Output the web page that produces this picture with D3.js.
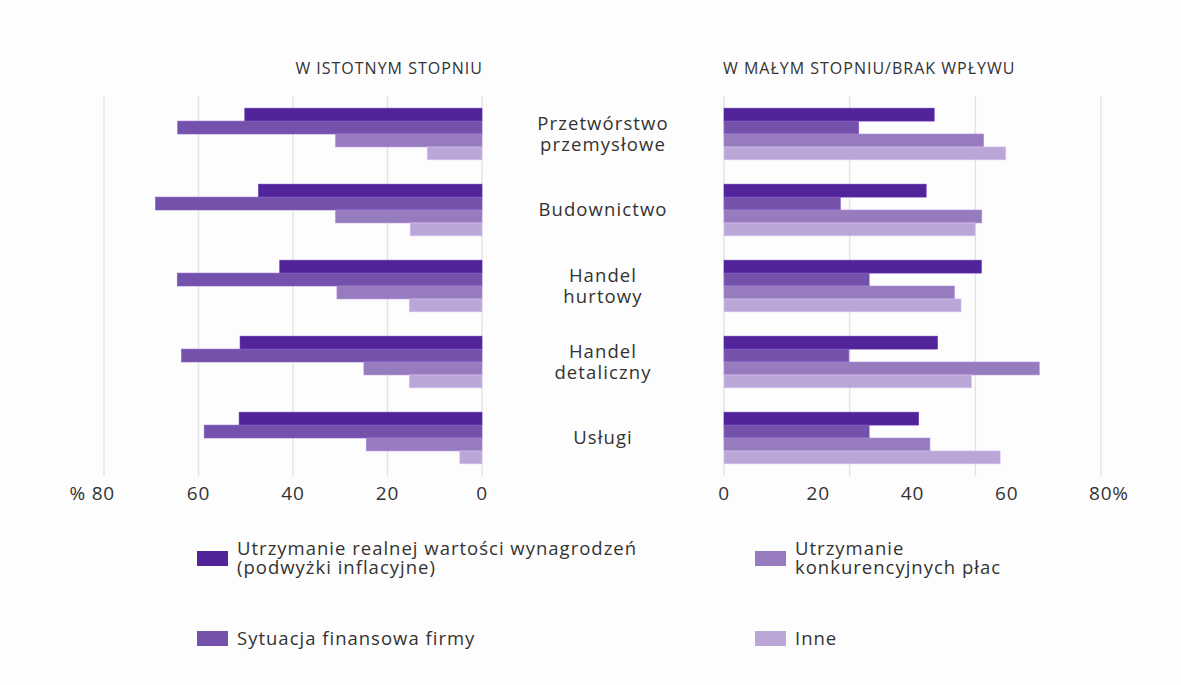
<!DOCTYPE html>
<html lang="pl">
<head>
  <meta charset="utf-8">
  <title>Czynniki wpływające na wynagrodzenia</title>
  <script src="https://d3js.org/d3.v7.min.js"></script>
  <style>
    body { margin: 0; background: #fdfdfd; }
    text { font-family: "Open Sans", "Noto Sans", sans-serif; fill: #333; }
    .grid line { stroke: #e4e4e4; stroke-width: 1.5; }
    .title { font-size: 16px; letter-spacing: 1px; }
    .tick-label { font-size: 19px; letter-spacing: 0.8px; }
    .cat { font-size: 18.5px; letter-spacing: 1.1px; }
    .legend text { font-size: 18.5px; letter-spacing: 1px; }
  </style>
</head>
<body>
<script>
  var categories = [["Przetwórstwo", "przemysłowe"], ["Budownictwo"], ["Handel", "hurtowy"], ["Handel", "detaliczny"], ["Usługi"]];
  var series = ["Utrzymanie realnej wartości wynagrodzeń (podwyżki inflacyjne)", "Sytuacja finansowa firmy", "Utrzymanie konkurencyjnych płac", "Inne"];
  var colors = ["#52249a", "#7452ac", "#967bbf", "#bba7d7"];

  // "w istotnym stopniu" (left), per series, per category
  var leftValues = [
    [50.2, 47.3, 42.8, 51.2, 51.4],
    [64.4, 69.1, 64.5, 63.6, 58.8],
    [31.0, 31.0, 30.7, 25.0, 24.5],
    [11.6, 15.2, 15.4, 15.4, 4.7]
  ];
  // "w małym stopniu / brak wpływu" (right)
  var rightValues = [
    [44.6, 42.9, 54.6, 45.3, 41.3],
    [28.6, 24.7, 30.8, 26.5, 30.8],
    [55.1, 54.7, 48.9, 66.9, 43.7],
    [59.8, 53.3, 50.3, 52.5, 58.6]
  ];

  var tickValues = [0, 20, 40, 60, 80];
  var leftGrid = [0, 20, 40, 60, 80];
  var rightGrid = [0, 80 / 3, 160 / 3, 80];

  var width = 1181, height = 685;
  var svg = d3.select("body").append("svg")
    .attr("width", width)
    .attr("height", height);

  var xLeft = d3.scaleLinear().domain([0, 80]).range([482, 104]);
  var xRight = d3.scaleLinear().domain([0, 80]).range([724, 1101]);

  var y = d3.scaleBand()
    .domain(d3.range(categories.length))
    .range([96, 476])
    .paddingInner(0.32)
    .paddingOuter(0.16);

  var ySub = d3.scaleBand()
    .domain(d3.range(series.length))
    .range([0, y.bandwidth()]);

  // grid lines
  svg.append("g").attr("class", "grid")
    .selectAll("line").data(leftGrid).enter().append("line")
    .attr("x1", function(d) { return xLeft(d); })
    .attr("x2", function(d) { return xLeft(d); })
    .attr("y1", 96).attr("y2", 476);

  svg.append("g").attr("class", "grid")
    .selectAll("line").data(rightGrid).enter().append("line")
    .attr("x1", function(d) { return xRight(d); })
    .attr("x2", function(d) { return xRight(d); })
    .attr("y1", 96).attr("y2", 476);

  // bars
  function drawBars(values, x, left) {
    var g = svg.append("g");
    values.forEach(function(vals, s) {
      g.selectAll(".b" + s).data(vals).enter().append("rect")
        .attr("x", function(d) { return left ? x(d) : x(0); })
        .attr("y", function(d, i) { return y(i) + ySub(s); })
        .attr("width", function(d) { return Math.abs(x(d) - x(0)); })
        .attr("height", ySub.bandwidth())
        .attr("fill", colors[s])
        .attr("stroke", d3.color(colors[s]).brighter(0.4))
        .attr("stroke-width", 0.6);
    });
  }
  drawBars(leftValues, xLeft, true);
  drawBars(rightValues, xRight, false);

  // titles
  svg.append("text").attr("class", "title")
    .attr("x", 483).attr("y", 74)
    .attr("text-anchor", "end")
    .text("W ISTOTNYM STOPNIU");
  svg.append("text").attr("class", "title")
    .attr("x", 723).attr("y", 74)
    .text("W MAŁYM STOPNIU/BRAK WPŁYWU");

  // category labels
  var catG = svg.append("g");
  categories.forEach(function(lines, i) {
    var cy = y(i) + y.bandwidth() / 2;
    var t = catG.append("text").attr("class", "cat")
      .attr("text-anchor", "middle");
    lines.forEach(function(l, j) {
      t.append("tspan").attr("x", 603)
        .attr("y", cy - (lines.length - 1) * 10.5 + j * 21)
        .attr("dy", "0.35em")
        .text(l);
    });
  });

  // tick labels
  svg.append("g").selectAll("text").data(tickValues).enter().append("text")
    .attr("class", "tick-label")
    .attr("x", function(d) { return xLeft(d); })
    .attr("y", 500)
    .attr("text-anchor", function(d) { return d === 80 ? "end" : "middle"; })
    .attr("dx", function(d) { return d === 80 ? 11 : 0; })
    .text(function(d) { return d === 80 ? "% " + d : d; });

  svg.append("g").selectAll("text").data(tickValues).enter().append("text")
    .attr("class", "tick-label")
    .attr("x", function(d) { return xRight(d); })
    .attr("y", 500)
    .attr("text-anchor", function(d) { return d === 80 ? "start" : "middle"; })
    .attr("dx", function(d) { return d === 80 ? -12 : 0; })
    .text(function(d) { return d === 80 ? d + "%" : d; });

  // legend
  var legendItems = [
    { x: 197, y: 551, lines: ["Utrzymanie realnej wartości wynagrodzeń", "(podwyżki inflacyjne)"] },
    { x: 197, y: 631, lines: ["Sytuacja finansowa firmy"] },
    { x: 755, y: 551, lines: ["Utrzymanie", "konkurencyjnych płac"] },
    { x: 755, y: 631, lines: ["Inne"] }
  ];
  var legend = svg.append("g").attr("class", "legend");
  legendItems.forEach(function(it, s) {
    legend.append("rect")
      .attr("x", it.x).attr("y", it.y)
      .attr("width", 31).attr("height", 15)
      .attr("fill", colors[s]);
    it.lines.forEach(function(l, j) {
      legend.append("text").attr("x", it.x + 40)
        .attr("y", (it.lines.length > 1 ? it.y - 2 : it.y + 8) + j * 18.5)
        .attr("dy", "0.35em")
        .text(l);
    });
  });
</script>
</body>
</html>
